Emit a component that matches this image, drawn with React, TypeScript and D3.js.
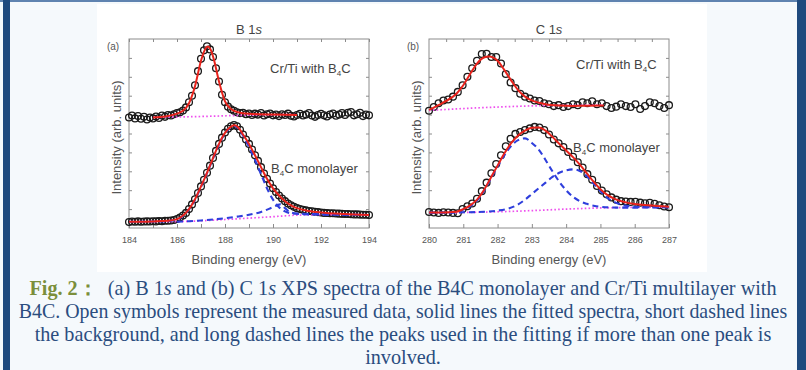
import React, { useEffect, useRef } from 'react';
import * as d3 from 'd3';

// ---- B 1s panel (a): measured points, one row per eV ----
const B1S_E = [
  184.0, 184.125, 184.25, 184.375, 184.5, 184.625, 184.75, 184.875,
  185.0, 185.125, 185.25, 185.375, 185.5, 185.625, 185.75, 185.875,
  186.0, 186.125, 186.25, 186.375, 186.5, 186.625, 186.75, 186.875,
  187.0, 187.125, 187.25, 187.375, 187.5, 187.625, 187.75, 187.875,
  188.0, 188.125, 188.25, 188.375, 188.5, 188.625, 188.75, 188.875,
  189.0, 189.125, 189.25, 189.375, 189.5, 189.625, 189.75, 189.875,
  190.0, 190.125, 190.25, 190.375, 190.5, 190.625, 190.75, 190.875,
  191.0, 191.125, 191.25, 191.375, 191.5, 191.625, 191.75, 191.875,
  192.0, 192.125, 192.25, 192.375, 192.5, 192.625, 192.75, 192.875,
  193.0, 193.125, 193.25, 193.375, 193.5, 193.625, 193.75, 193.875,
  194.0,
];
const B1S_CRTI = [
  5.85, 5.95, 5.8, 5.92, 5.78, 5.88, 5.74, 5.85,
  5.8, 5.9, 5.82, 5.95, 5.88, 5.98, 5.95, 6.02,
  6.08, 6.12, 6.22, 6.38, 6.65, 7.0, 7.55, 8.3,
  8.95, 9.4, 9.62, 9.45, 9.05, 8.45, 7.75, 7.05,
  6.65, 6.42, 6.28, 6.2, 6.12, 6.08, 6.1, 6.02,
  6.06, 5.98, 6.05, 6.0, 6.08, 5.95, 6.02, 6.06,
  5.96, 6.0, 5.92, 6.02, 5.98, 6.05, 5.94, 5.9,
  5.98, 6.04, 5.95, 6.0, 6.08, 5.95, 5.88, 5.98,
  6.04, 5.96, 5.9, 6.0, 6.06, 5.94, 6.0, 6.08,
  5.98, 6.1, 6.14, 5.96, 6.02, 6.1, 5.92, 6.0,
  5.96,
];
const B1S_MONO = [
  0.32, 0.34, 0.33, 0.35, 0.33, 0.34, 0.35, 0.34,
  0.36, 0.35, 0.37, 0.36, 0.38, 0.38, 0.4, 0.42,
  0.48, 0.55, 0.66, 0.8, 1.0, 1.25, 1.52, 1.85,
  2.2, 2.55, 2.92, 3.3, 3.7, 4.08, 4.45, 4.78,
  5.05, 5.25, 5.38, 5.45, 5.38, 5.2, 4.95, 4.68,
  4.45, 4.15, 3.85, 3.55, 3.22, 2.88, 2.6, 2.35,
  2.1, 1.9, 1.72, 1.56, 1.42, 1.3, 1.2, 1.12,
  1.05, 1.0, 0.96, 0.93, 0.9, 0.88, 0.86, 0.84,
  0.82, 0.8, 0.79, 0.78, 0.78, 0.77, 0.76, 0.75,
  0.74, 0.74, 0.73, 0.72, 0.72, 0.71, 0.7, 0.7,
  0.69,
];
const B1S_CRTI_FIT: [number, number][] = [
  [185.0, 5.85], [185.5, 5.9], [186.0, 6.05], [186.25, 6.2], [186.5, 6.6], [186.75, 7.5],
  [187.0, 8.85], [187.15, 9.4], [187.28, 9.6], [187.4, 9.45], [187.55, 8.85], [187.75, 7.75],
  [188.0, 6.7], [188.25, 6.3], [188.5, 6.14], [189.0, 6.04], [190.0, 6.0], [191.0, 5.98],
];
const B1S_CRTI_BG: [number, number][] = [
  [185.0, 5.85], [187.0, 5.9], [189.0, 5.97], [191.0, 6.0],
];
const B1S_MONO_FIT: [number, number][] = [
  [184.0, 0.33], [185.0, 0.35], [185.6, 0.38], [186.0, 0.47], [186.25, 0.66], [186.5, 1.0],
  [186.75, 1.52], [187.0, 2.2], [187.25, 2.92], [187.5, 3.7], [187.75, 4.45], [188.0, 5.03],
  [188.25, 5.36], [188.4, 5.43], [188.6, 5.25], [188.75, 4.95], [189.0, 4.45], [189.25, 3.85],
  [189.5, 3.22], [189.75, 2.6], [190.0, 2.1], [190.25, 1.72], [190.5, 1.42], [190.75, 1.2],
  [191.0, 1.05], [191.5, 0.9], [192.0, 0.82], [193.0, 0.74], [194.0, 0.69],
];
const B1S_MONO_PEAK1: [number, number][] = [
  [184.0, 0.33], [185.0, 0.34], [185.6, 0.37], [186.0, 0.45], [186.25, 0.64], [186.5, 0.98],
  [186.75, 1.5], [187.0, 2.17], [187.25, 2.9], [187.5, 3.67], [187.75, 4.42], [188.0, 5.0],
  [188.25, 5.33], [188.4, 5.4], [188.6, 5.2], [188.75, 4.9], [189.0, 4.3], [189.25, 3.6],
  [189.5, 2.85], [189.75, 2.1], [190.0, 1.5], [190.25, 1.1], [190.5, 0.88], [190.75, 0.78],
  [191.0, 0.75], [192.0, 0.71], [194.0, 0.69],
];
const B1S_MONO_PEAK2: [number, number][] = [
  [186.0, 0.33], [186.5, 0.36], [187.0, 0.4], [187.5, 0.45], [188.0, 0.52], [188.5, 0.6],
  [189.0, 0.7], [189.5, 0.85], [190.0, 1.1], [190.3, 1.25], [190.5, 1.05], [190.7, 0.85],
  [191.0, 0.77], [191.5, 0.74], [192.0, 0.73], [193.0, 0.71], [194.0, 0.69],
];
const B1S_MONO_BG: [number, number][] = [
  [184.0, 0.33], [186.0, 0.34], [188.0, 0.45], [190.0, 0.6], [191.0, 0.68], [192.0, 0.7], [194.0, 0.7],
];

// ---- C 1s panel (b) ----
const C1S_E = [
  280.0, 280.14, 280.28, 280.42, 280.56, 280.7, 280.84, 280.98, 281.12, 281.26,
  281.4, 281.54, 281.68, 281.82, 281.96, 282.1, 282.24, 282.38, 282.52, 282.66,
  282.8, 282.94, 283.08, 283.22, 283.36, 283.5, 283.64, 283.78, 283.92, 284.06,
  284.2, 284.34, 284.48, 284.62, 284.76, 284.9, 285.04, 285.18, 285.32, 285.46,
  285.6, 285.74, 285.88, 286.02, 286.16, 286.3, 286.44, 286.58, 286.72, 286.86,
  287.0,
];
const C1S_CRTI = [
  6.2, 6.4, 6.6, 6.75, 6.8, 6.95, 7.2, 7.55, 8.0, 8.45,
  8.85, 9.2, 9.22, 9.05, 9.05, 8.7, 8.15, 7.7, 7.4, 7.1,
  6.95, 6.85, 6.75, 6.72, 6.6, 6.55, 6.45, 6.5, 6.4, 6.45,
  6.55, 6.5, 6.65, 6.6, 6.7, 6.55, 6.6, 6.45, 6.35, 6.42,
  6.55, 6.45, 6.4, 6.55, 6.3, 6.45, 6.65, 6.6, 6.45, 6.35,
  6.5,
];
const C1S_MONO = [
  0.85, 0.82, 0.8, 0.83, 0.82, 0.8, 0.78, 1.0, 1.15, 1.3,
  1.55, 1.95, 2.4, 2.9, 3.38, 3.85, 4.32, 4.72, 4.98, 5.08,
  5.18, 5.27, 5.35, 5.32, 5.18, 4.95, 4.68, 4.48, 4.28, 4.02,
  3.77, 3.48, 3.2, 2.85, 2.55, 2.22, 1.98, 1.78, 1.62, 1.5,
  1.42, 1.4, 1.38, 1.39, 1.34, 1.31, 1.33, 1.28, 1.2, 1.14,
  1.1,
];
const C1S_CRTI_FIT: [number, number][] = [
  [280.0, 6.25], [280.4, 6.62], [280.8, 7.1], [281.0, 7.55], [281.2, 8.15], [281.4, 8.7],
  [281.6, 9.02], [281.75, 9.08], [282.0, 8.85], [282.2, 8.35], [282.4, 7.8], [282.6, 7.3],
  [282.8, 6.95], [283.0, 6.75], [283.4, 6.55], [283.8, 6.48], [284.2, 6.46], [284.6, 6.47],
  [285.1, 6.48],
];
const C1S_CRTI_BG: [number, number][] = [
  [280.0, 6.22], [281.0, 6.32], [282.0, 6.4], [283.0, 6.46], [284.0, 6.49], [285.1, 6.5],
];
const C1S_MONO_FIT: [number, number][] = [
  [280.0, 0.82], [280.4, 0.82], [280.8, 0.86], [281.0, 1.0], [281.2, 1.2], [281.4, 1.5],
  [281.6, 2.0], [281.8, 2.65], [282.0, 3.3], [282.2, 3.95], [282.4, 4.5], [282.6, 4.9],
  [282.8, 5.15], [283.0, 5.3], [283.2, 5.32], [283.4, 5.15], [283.6, 4.82], [283.8, 4.45],
  [284.0, 4.1], [284.2, 3.75], [284.4, 3.35], [284.6, 2.9], [284.8, 2.45], [285.0, 2.05],
  [285.2, 1.75], [285.4, 1.55], [285.6, 1.42], [285.8, 1.33], [286.0, 1.27], [286.4, 1.2],
  [287.0, 1.12],
];
const C1S_MONO_PEAK1: [number, number][] = [
  [280.0, 0.82], [280.4, 0.82], [280.8, 0.84], [281.0, 0.98], [281.2, 1.15], [281.4, 1.45],
  [281.6, 1.95], [281.8, 2.6], [282.0, 3.25], [282.2, 3.85], [282.4, 4.35], [282.6, 4.65],
  [282.8, 4.74], [283.0, 4.5], [283.2, 4.15], [283.4, 3.6], [283.6, 3.0], [283.8, 2.45],
  [284.0, 2.0], [284.2, 1.65], [284.4, 1.42], [284.6, 1.28], [284.8, 1.18], [285.0, 1.12],
  [285.5, 1.08], [286.0, 1.08], [287.0, 1.1],
];
const C1S_MONO_PEAK2: [number, number][] = [
  [280.0, 0.8], [281.0, 0.83], [281.6, 0.86], [282.0, 0.92], [282.3, 1.02], [282.6, 1.25],
  [282.8, 1.5], [283.0, 1.8], [283.2, 2.1], [283.4, 2.4], [283.6, 2.7], [283.8, 2.92],
  [284.0, 3.05], [284.2, 3.1], [284.4, 3.02], [284.6, 2.75], [284.8, 2.35], [285.0, 1.95],
  [285.2, 1.6], [285.4, 1.38], [285.6, 1.24], [285.8, 1.16], [286.0, 1.12], [286.5, 1.1],
  [287.0, 1.1],
];
const C1S_MONO_BG: [number, number][] = [
  [280.0, 0.8], [281.0, 0.82], [282.0, 0.86], [283.0, 0.92], [284.0, 1.0], [285.0, 1.06],
  [286.0, 1.09], [287.0, 1.1],
];

const B1S_TICKS = [184, 185, 186, 187, 188, 189, 190, 191, 192, 193, 194];
const C1S_TICKS = [280, 281, 282, 283, 284, 285, 286, 287];
const C1S_TOP_TICKS = [280.5, 281, 281.5, 282, 282.5, 283, 283.5, 284, 284.5, 285, 285.5, 286, 286.5];

const CAPTION_LINE2 = 'B4C. Open symbols represent the measured data, solid lines the fitted spectra, short dashed lines';
const CAPTION_LINE3 = 'the background, and long dashed lines the peaks used in the fitting if more than one peak is';
const CAPTION_LINE4 = 'involved.';

const SANS = '"Liberation Sans", Arial, sans-serif';
const SERIF = '"Liberation Serif", "Times New Roman", serif';

interface PanelSpec {
  left: number;
  right: number;
  domain: [number, number];
  ticks: number[];
  minorTop: number[];
  labelTick: (d: number) => boolean;
  tag: string;
  element: string;
  energies: number[];
  crti: number[];
  mono: number[];
  crtiFit: [number, number][];
  crtiBg: [number, number][];
  monoFit: [number, number][];
  monoPeaks: [number, number][][];
  monoBg: [number, number][];
  crtiLabel: [number, number];
  monoLabel: [number, number];
}

const TOP = 39;
const BOTTOM = 228;

function drawPanel(svg: d3.Selection<SVGSVGElement, unknown, null, undefined>, p: PanelSpec) {
  const x = d3.scaleLinear().domain(p.domain).range([p.left, p.right]);
  const y = d3.scaleLinear().domain([0, 10]).range([BOTTOM, TOP]);
  const g = svg.append('g');
  const cx = (p.left + p.right) / 2;

  // frame
  g.append('rect')
    .attr('x', p.left).attr('y', TOP)
    .attr('width', p.right - p.left).attr('height', BOTTOM - TOP)
    .attr('fill', 'none').attr('stroke', '#8c8c8c').attr('stroke-width', 1);

  // axes, ticks pointing inward
  const styleAxis = (a: d3.Selection<SVGGElement, unknown, null, undefined>) => {
    a.select('.domain').remove();
    a.selectAll('.tick line').attr('stroke', '#8c8c8c');
    a.selectAll('.tick text')
      .attr('fill', '#555').attr('font-size', 9).attr('font-family', SANS);
  };
  g.append('g').attr('transform', `translate(0,${BOTTOM})`)
    .call(d3.axisBottom(x).tickValues(p.ticks).tickSize(-4).tickPadding(9)
      .tickFormat(d => (p.labelTick(+d) ? String(d) : '')))
    .call(styleAxis);
  g.append('g').attr('transform', `translate(0,${TOP})`)
    .call(d3.axisTop(x).tickValues(p.minorTop).tickSize(-3).tickFormat(() => ''))
    .call(styleAxis);
  const yTicks = d3.range(1, 10);
  g.append('g').attr('transform', `translate(${p.left},0)`)
    .call(d3.axisLeft(y).tickValues(yTicks).tickSize(-3).tickFormat(() => ''))
    .call(styleAxis);
  g.append('g').attr('transform', `translate(${p.right},0)`)
    .call(d3.axisRight(y).tickValues(yTicks).tickSize(-3).tickFormat(() => ''))
    .call(styleAxis);

  // measured data (open circles)
  const points = (vals: number[]) => vals.map((v, i) => [p.energies[i], v] as [number, number]);
  [points(p.crti), points(p.mono)].forEach(series => {
    g.append('g').selectAll('circle').data(series).enter().append('circle')
      .attr('cx', d => x(d[0])).attr('cy', d => y(d[1])).attr('r', 3.4)
      .attr('fill', 'none').attr('stroke', '#1b1b1b').attr('stroke-width', 1.3);
  });

  const line = d3.line<[number, number]>().x(d => x(d[0])).y(d => y(d[1])).curve(d3.curveMonotoneX);

  // backgrounds (short dashed)
  [p.crtiBg, p.monoBg].forEach(s => {
    g.append('path').attr('d', line(s)!).attr('fill', 'none')
      .attr('stroke', '#ee4fee').attr('stroke-width', 1.7).attr('stroke-dasharray', '1.6,2.2');
  });
  // component peaks (long dashed)
  p.monoPeaks.forEach(s => {
    g.append('path').attr('d', line(s)!).attr('fill', 'none')
      .attr('stroke', '#2f3fdc').attr('stroke-width', 2.1).attr('stroke-dasharray', '6,4');
  });
  // fitted spectra (solid)
  [p.crtiFit, p.monoFit].forEach(s => {
    g.append('path').attr('d', line(s)!).attr('fill', 'none')
      .attr('stroke', '#e8231c').attr('stroke-width', 2);
  });

  // labels
  const title = g.append('text').attr('x', cx).attr('y', 34).attr('text-anchor', 'middle')
    .attr('font-family', SANS).attr('font-size', 13).attr('fill', '#444');
  title.append('tspan').text(`${p.element} 1`);
  title.append('tspan').attr('font-style', 'italic').text('s');

  g.append('text').attr('x', p.left - 16).attr('y', 50).attr('text-anchor', 'middle')
    .attr('font-family', SANS).attr('font-size', 10).attr('fill', '#555').text(p.tag);

  g.append('text')
    .attr('transform', `translate(${p.left - 8},${(TOP + BOTTOM) / 2 + 4}) rotate(-90)`)
    .attr('text-anchor', 'middle')
    .attr('font-family', SANS).attr('font-size', 13).attr('fill', '#555')
    .text('Intensity (arb. units)');

  g.append('text').attr('x', cx).attr('y', 264).attr('text-anchor', 'middle')
    .attr('font-family', SANS).attr('font-size', 13).attr('fill', '#555')
    .text('Binding energy (eV)');

  const subLabel = (pos: [number, number], before: string, after: string) => {
    const t = g.append('text').attr('x', pos[0]).attr('y', pos[1])
      .attr('font-family', SANS).attr('font-size', 13).attr('fill', '#444');
    t.append('tspan').text(`${before}B`);
    t.append('tspan').attr('font-size', 8).attr('dy', 3).text('4');
    t.append('tspan').attr('dy', -3).text(`C${after}`);
  };
  subLabel(p.crtiLabel, 'Cr/Ti with ', '');
  subLabel(p.monoLabel, '', ' monolayer');
}

export default function App() {
  const svgRef = useRef<SVGSVGElement>(null);

  useEffect(() => {
    if (!svgRef.current) return;
    const svg = d3.select(svgRef.current);
    svg.selectAll('*').remove();

    // page frame
    svg.append('rect').attr('width', 806).attr('height', 370).attr('fill', '#f5f9fc');
    svg.append('rect').attr('x', 97).attr('y', 4).attr('width', 610).attr('height', 268).attr('fill', '#ffffff');
    svg.append('rect').attr('x', 0).attr('y', 0).attr('width', 806).attr('height', 2).attr('fill', '#5f83b0');
    svg.append('rect').attr('x', 3).attr('y', 0).attr('width', 7).attr('height', 370).attr('fill', '#1f4a7e');
    svg.append('rect').attr('x', 797).attr('y', 0).attr('width', 9).attr('height', 370).attr('fill', '#1f4a7e');

    drawPanel(svg, {
      left: 129, right: 369, domain: [184, 194], ticks: B1S_TICKS, minorTop: B1S_TICKS,
      labelTick: d => d % 2 === 0, tag: '(a)', element: 'B',
      energies: B1S_E, crti: B1S_CRTI, mono: B1S_MONO,
      crtiFit: B1S_CRTI_FIT, crtiBg: B1S_CRTI_BG, monoFit: B1S_MONO_FIT,
      monoPeaks: [B1S_MONO_PEAK1, B1S_MONO_PEAK2], monoBg: B1S_MONO_BG,
      crtiLabel: [270, 73], monoLabel: [271, 173],
    });
    drawPanel(svg, {
      left: 429, right: 669, domain: [280, 287], ticks: C1S_TICKS, minorTop: C1S_TOP_TICKS,
      labelTick: () => true, tag: '(b)', element: 'C',
      energies: C1S_E, crti: C1S_CRTI, mono: C1S_MONO,
      crtiFit: C1S_CRTI_FIT, crtiBg: C1S_CRTI_BG, monoFit: C1S_MONO_FIT,
      monoPeaks: [C1S_MONO_PEAK1, C1S_MONO_PEAK2], monoBg: C1S_MONO_BG,
      crtiLabel: [576, 69], monoLabel: [573, 152],
    });

    // caption
    const cap = svg.append('g').attr('font-family', SERIF).attr('font-size', 20.2).attr('fill', '#2b4d7f')
      .attr('text-anchor', 'middle');
    const l1 = cap.append('text').attr('x', 403).attr('y', 295);
    l1.append('tspan').attr('fill', '#7b8f3b').attr('font-weight', 'bold').text('Fig. 2：');
    l1.append('tspan').text('\u00a0\u00a0(a) B 1');
    l1.append('tspan').attr('font-style', 'italic').text('s');
    l1.append('tspan').text(' and (b) C 1');
    l1.append('tspan').attr('font-style', 'italic').text('s');
    l1.append('tspan').text(' XPS spectra of the B4C monolayer and Cr/Ti multilayer with');
    cap.append('text').attr('x', 403).attr('y', 318).attr('font-size', 19.9).text(CAPTION_LINE2);
    cap.append('text').attr('x', 403).attr('y', 341).text(CAPTION_LINE3);
    cap.append('text').attr('x', 403).attr('y', 364).text(CAPTION_LINE4);
  }, []);

  return (
    <svg ref={svgRef} width={806} height={370}
      style={{ position: 'absolute', left: 0, top: 0, display: 'block' }} />
  );
}
